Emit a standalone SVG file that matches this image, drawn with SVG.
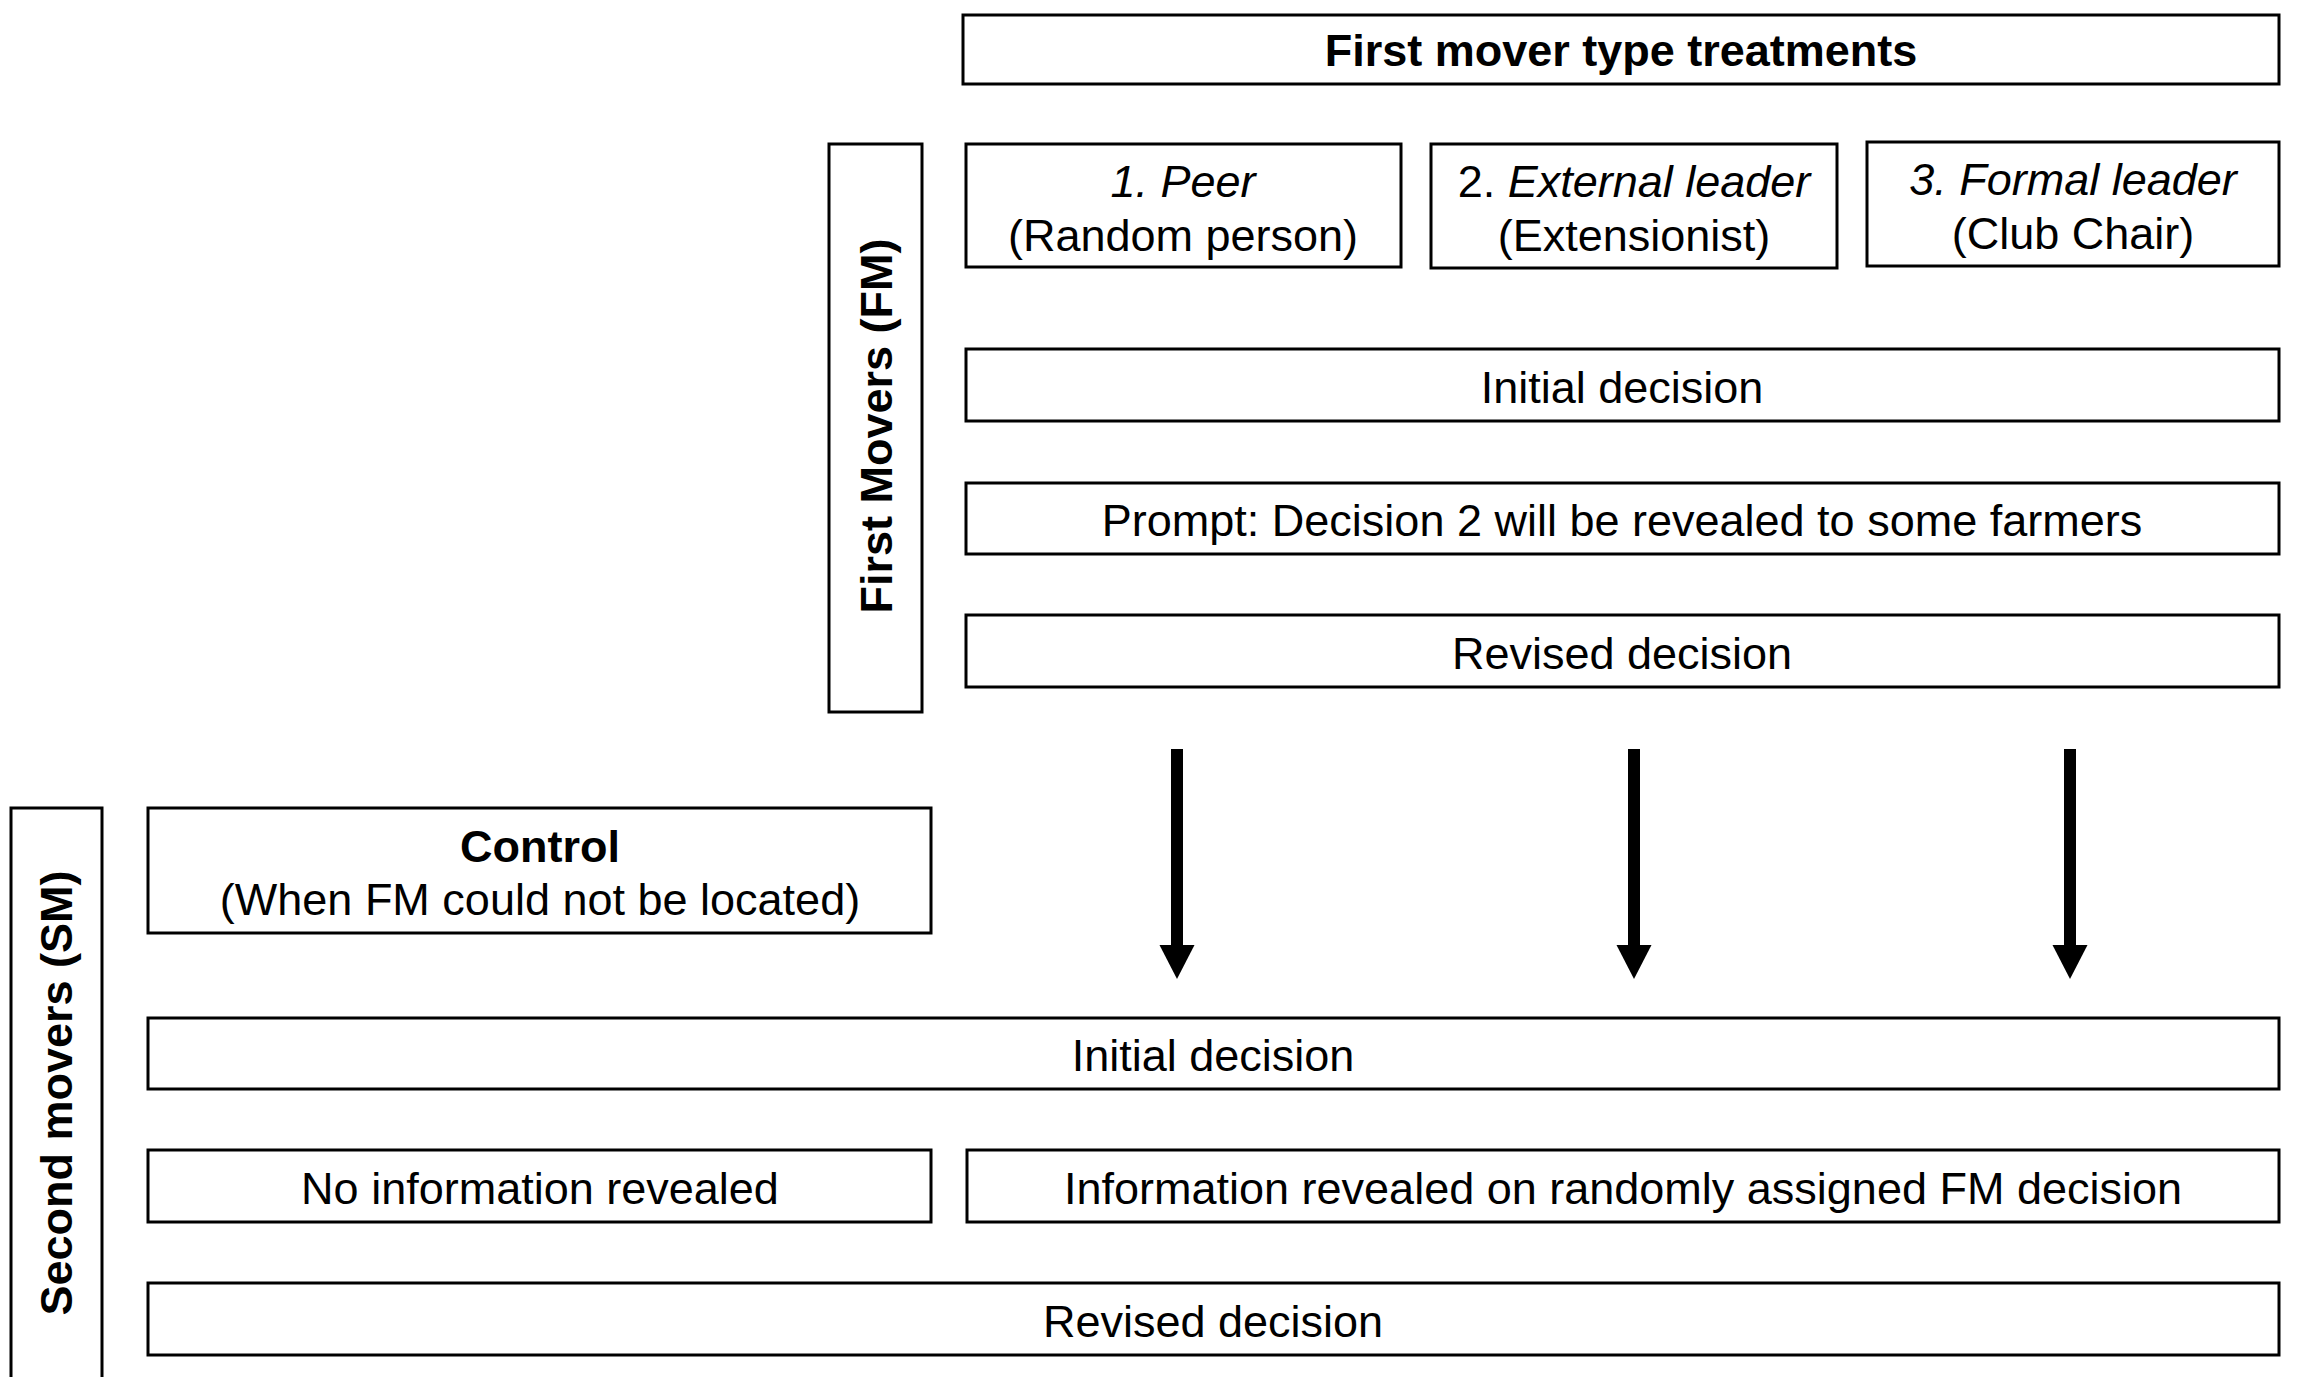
<svg xmlns="http://www.w3.org/2000/svg" width="2301" height="1377" viewBox="0 0 2301 1377">
<style>
rect.box{fill:#fff;stroke:#000;stroke-width:3}
text{font-family:"Liberation Sans",Arial,sans-serif;font-size:45px;fill:#000;text-anchor:middle}
.b{font-weight:bold}
.i{font-style:italic}
.shaft{stroke:#000;stroke-width:12;fill:none}
</style>
<defs>
<marker id="ah" markerUnits="userSpaceOnUse" markerWidth="34" markerHeight="36" refX="0" refY="18" orient="auto" viewBox="0 0 34 36">
<path d="M0,0.5 L34,18 L0,35.5 Z" fill="#000"/>
</marker>
</defs>
<rect width="2301" height="1377" fill="#fff"/>
<g id="title"><rect class="box" x="963" y="15" width="1316" height="69"/><text class="b" x="1621" y="66">First mover type treatments</text></g>
<g id="fm-label"><rect class="box" x="829" y="144" width="93" height="568"/><text class="b" transform="translate(892,426) rotate(-90)">First Movers (FM)</text></g>
<g id="peer"><rect class="box" x="966" y="144" width="435" height="123"/><text class="i" x="1183" y="197">1. Peer</text><text x="1183" y="251">(Random person)</text></g>
<g id="external"><rect class="box" x="1431" y="144" width="406" height="124"/><text x="1634" y="197"><tspan>2. </tspan><tspan class="i">External leader</tspan></text><text x="1634" y="251">(Extensionist)</text></g>
<g id="formal"><rect class="box" x="1867" y="142" width="412" height="124"/><text class="i" x="2073" y="195">3. Formal leader</text><text x="2073" y="249">(Club Chair)</text></g>
<g id="fm-initial"><rect class="box" x="966" y="349" width="1313" height="72"/><text x="1622" y="403">Initial decision</text></g>
<g id="fm-prompt"><rect class="box" x="966" y="483" width="1313" height="71"/><text x="1622" y="536">Prompt: Decision 2 will be revealed to some farmers</text></g>
<g id="fm-revised"><rect class="box" x="966" y="615" width="1313" height="72"/><text x="1622" y="669">Revised decision</text></g>
<g id="sm-label"><rect class="box" x="11" y="808" width="91" height="600"/><text class="b" transform="translate(72,1093) rotate(-90)">Second movers (SM)</text></g>
<g id="control"><rect class="box" x="148" y="808" width="783" height="125"/><text class="b" x="540" y="862">Control</text><text x="540" y="915">(When FM could not be located)</text></g>
<g id="sm-initial"><rect class="box" x="148" y="1018" width="2131" height="71"/><text x="1213" y="1071">Initial decision</text></g>
<g id="no-info"><rect class="box" x="148" y="1150" width="783" height="72"/><text x="540" y="1204">No information revealed</text></g>
<g id="info"><rect class="box" x="967" y="1150" width="1312" height="72"/><text x="1623" y="1204">Information revealed on randomly assigned FM decision</text></g>
<g id="sm-revised"><rect class="box" x="148" y="1283" width="2131" height="72"/><text x="1213" y="1337">Revised decision</text></g>
<g id="connectors">
<line class="shaft" x1="1177" y1="749" x2="1177" y2="945" marker-end="url(#ah)"/>
<line class="shaft" x1="1634" y1="749" x2="1634" y2="945" marker-end="url(#ah)"/>
<line class="shaft" x1="2070" y1="749" x2="2070" y2="945" marker-end="url(#ah)"/>
</g>
</svg>
